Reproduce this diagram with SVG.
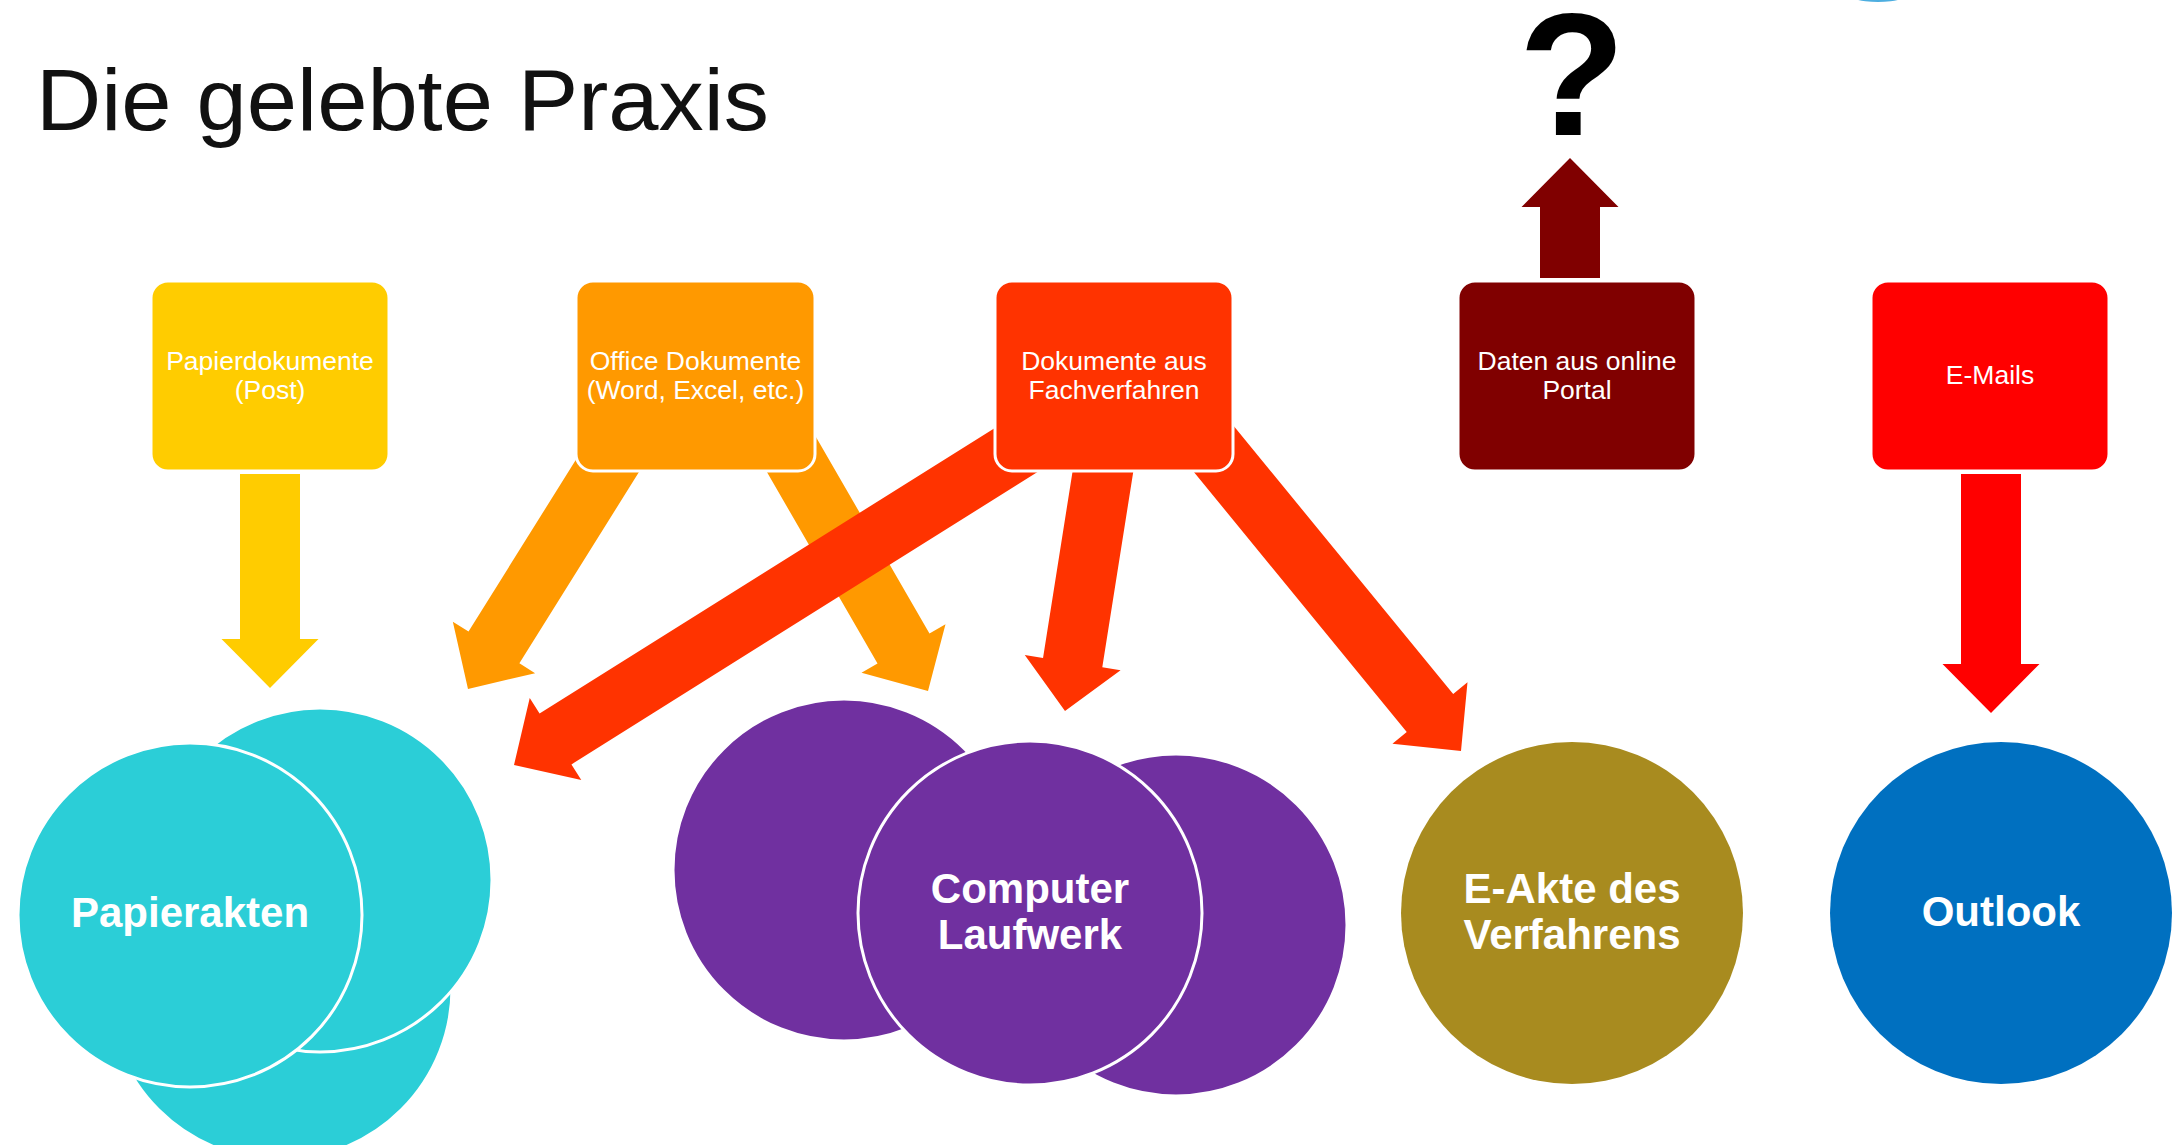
<svg xmlns="http://www.w3.org/2000/svg" width="2183" height="1145" viewBox="0 0 2183 1145">
<style>
.bx{stroke:#FFFFFF;stroke-width:3}
.bt{font-family:"Liberation Sans",Arial,sans-serif;font-size:26.5px;fill:#FFFFFF;text-anchor:middle}
.ct{font-family:"Liberation Sans",Arial,sans-serif;font-size:42px;font-weight:bold;fill:#FFFFFF;text-anchor:middle}
.ci{stroke:#FFFFFF;stroke-width:3}
.cyan{fill:#2BCED7}
.purple{fill:#7030A0}
</style>
<rect width="2183" height="1145" fill="#FFFFFF"/>
<ellipse cx="1878" cy="-8" rx="33" ry="10" fill="#4DAEE0"/>
<text x="36" y="130" font-family="'Liberation Sans',Arial,sans-serif" font-size="87" fill="#111111" textLength="733" lengthAdjust="spacingAndGlyphs">Die gelebte Praxis</text>
<text x="1572" y="135" font-family="'Liberation Sans',Arial,sans-serif" font-size="175" font-weight="bold" fill="#000000" text-anchor="middle">?</text>

<g id="connectors">
<polygon fill="#FFCC00" transform="translate(270,688) rotate(90)" points="-214,-30 -49,-30 -49,-48.5 0,0 -49,48.5 -49,30 -214,30"/>
<polygon fill="#FF9900" transform="translate(468,689) rotate(122)" points="-300,-30 -49,-30 -49,-48.5 0,0 -49,48.5 -49,30 -300,30"/>
<polygon fill="#FF9900" transform="translate(928,691) rotate(60)" points="-300,-30 -49,-30 -49,-48.5 0,0 -49,48.5 -49,30 -300,30"/>
<polygon fill="#FF3300" transform="translate(514,765) rotate(147.9)" points="-650,-30 -49,-30 -49,-48.5 0,0 -49,48.5 -49,30 -650,30"/>
<polygon fill="#FF3300" transform="translate(1065,711) rotate(99)" points="-300,-30 -49,-30 -49,-48.5 0,0 -49,48.5 -49,30 -300,30"/>
<polygon fill="#FF3300" transform="translate(1461,751) rotate(50.7)" points="-420,-30 -49,-30 -49,-48.5 0,0 -49,48.5 -49,30 -420,30"/>
<polygon fill="#800000" transform="translate(1570,158) rotate(-90)" points="-120,-30 -49,-30 -49,-48.5 0,0 -49,48.5 -49,30 -120,30"/>
<polygon fill="#FF0000" transform="translate(1991,713) rotate(90)" points="-239,-30 -49,-30 -49,-48.5 0,0 -49,48.5 -49,30 -239,30"/>
</g>

<g id="box-papierdokumente">
<rect class="bx" x="151" y="281" width="238" height="190" rx="17" fill="#FFCC00"/>
<text class="bt" x="270" y="370">Papierdokumente</text>
<text class="bt" x="270" y="399">(Post)</text>
</g>
<g id="box-office">
<rect class="bx" x="576" y="281" width="239" height="190" rx="17" fill="#FF9900"/>
<text class="bt" x="695.5" y="370">Office Dokumente</text>
<text class="bt" x="695.5" y="399">(Word, Excel, etc.)</text>
</g>
<g id="box-fachverfahren">
<rect class="bx" x="995" y="281" width="238" height="190" rx="17" fill="#FF3300"/>
<text class="bt" x="1114" y="370">Dokumente aus</text>
<text class="bt" x="1114" y="399">Fachverfahren</text>
</g>
<g id="box-portal">
<rect class="bx" x="1458" y="281" width="238" height="190" rx="17" fill="#800000"/>
<text class="bt" x="1577" y="370">Daten aus online</text>
<text class="bt" x="1577" y="399">Portal</text>
</g>
<g id="box-emails">
<rect class="bx" x="1871" y="281" width="238" height="190" rx="17" fill="#FF0000"/>
<text class="bt" x="1990" y="384">E-Mails</text>
</g>

<g id="node-papierakten">
<circle class="cyan ci" cx="280" cy="988" r="172"/>
<circle class="cyan ci" cx="320" cy="880" r="172"/>
<circle class="cyan ci" cx="190" cy="915" r="172"/>
<text class="ct" x="190" y="927">Papierakten</text>
</g>
<g id="node-computer">
<circle class="purple ci" cx="844" cy="870" r="171"/>
<circle class="purple ci" cx="1176" cy="925" r="171"/>
<circle class="purple ci" cx="1030" cy="913" r="172"/>
<text class="ct" x="1030" y="903">Computer</text>
<text class="ct" x="1030" y="949">Laufwerk</text>
</g>
<g id="node-eakte">
<circle cx="1572" cy="913" r="171" fill="#A88B1F"/>
<text class="ct" x="1572" y="903">E-Akte des</text>
<text class="ct" x="1572" y="949">Verfahrens</text>
</g>
<g id="node-outlook">
<circle cx="2001" cy="913" r="171" fill="#0070C0"/>
<text class="ct" x="2001" y="926">Outlook</text>
</g>
</svg>
